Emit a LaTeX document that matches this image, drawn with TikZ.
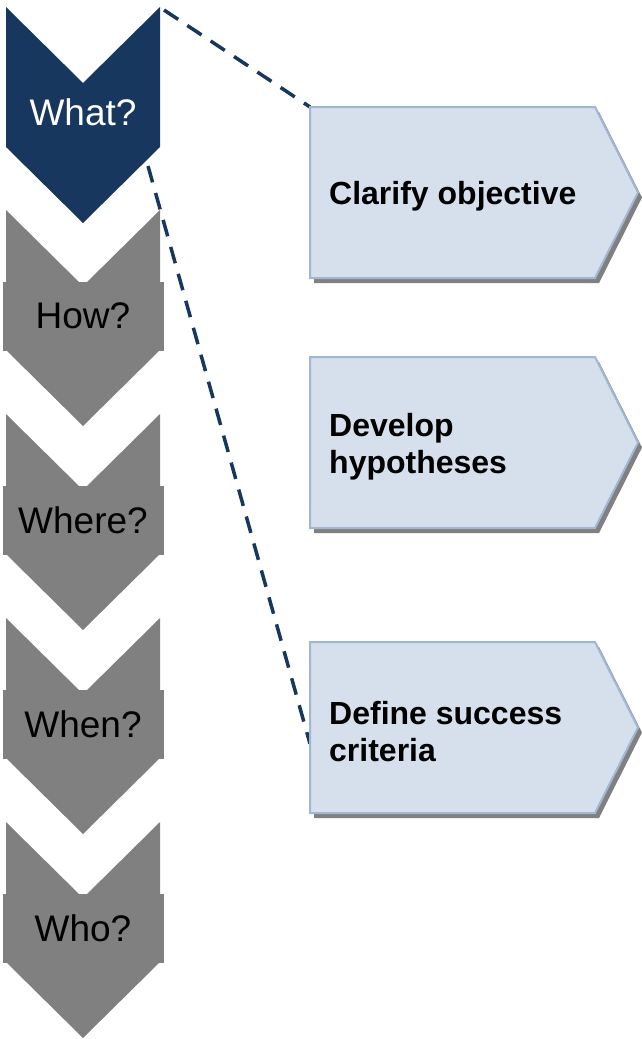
\documentclass[tikz,border=0pt]{standalone}
\usepackage{fontspec}
\setmainfont{Liberation Sans}
\usepackage{tikz}
\usetikzlibrary{positioning}
\definecolor{navy}{RGB}{23,55,94}
\definecolor{slate}{RGB}{128,128,128}
\definecolor{paleblue}{RGB}{214,224,236}
\definecolor{edgeblue}{RGB}{160,182,211}
\tikzset{
  chevron/.pic={\fill[#1] (-77,0) -- (0,76) -- (77,0) -- (77,140) -- (0,216) -- (-77,140) -- cycle;}
}

\begin{document}
\begin{tikzpicture}[x=1pt, y=-1pt]
    \tikzstyle{qtext}=[font=\fontsize{37}{44}\selectfont, inner sep=0pt]
    \tikzstyle{qbox}=[qtext, fill=slate, minimum width=161pt, minimum height=69pt]
    \tikzstyle{panel}=[minimum width=285pt, minimum height=171pt, inner sep=0pt, anchor=north west]
    \tikzstyle{paneltext}=[font=\bfseries\fontsize{32}{37}\selectfont, align=left, inner sep=0pt]
    \tikzstyle{callout}=[draw=navy, line width=3.5pt, dash pattern=on 17pt off 11pt]
    \useasboundingbox (0,0) rectangle (641,1039);

    \foreach \nm/\top in {obj/107, hyp/357, crit/642}
      \node[panel] (\nm) at (310,\top) {};

    \coordinate (what-corner) at (164,10);
    \coordinate (what-edge) at (148,166);
    \draw[callout] (what-corner) -- (obj.north west);
    \draw[callout] (what-edge) -- ([yshift=-16pt]crit.west);

    \pic at (83,7) {chevron=navy};
    \node[qtext, text=white] (what) at (83,112) {What?};
    \foreach \t/\q/\nm in {210/How/how, 414/Where/where, 618/When/when, 822/Who/who} {
      \pic at (83,\t) {chevron=slate};
      \node[qbox] (\nm) at (83,\t+106) {\q?};
    }

    \foreach \nm/\txt in {obj/{Clarify objective}, hyp/{Develop\\hypotheses}, crit/{Define success\\criteria}} {
      \fill[slate] ([shift={(4,5)}]\nm.north west) -- ++(285,0) -- ++(43,85.5) -- ++(-43,85.5) -- ++(-285,0) -- cycle;
      \filldraw[fill=paleblue, draw=edgeblue, line width=2pt] (\nm.north west) -- ++(285,0) -- ++(43,85.5) -- ++(-43,85.5) -- ++(-285,0) -- cycle;
      \node[paneltext, right=19pt of \nm.west, yshift=-4pt] (\nm-text) {\txt};
    }
\end{tikzpicture}
\end{document}
